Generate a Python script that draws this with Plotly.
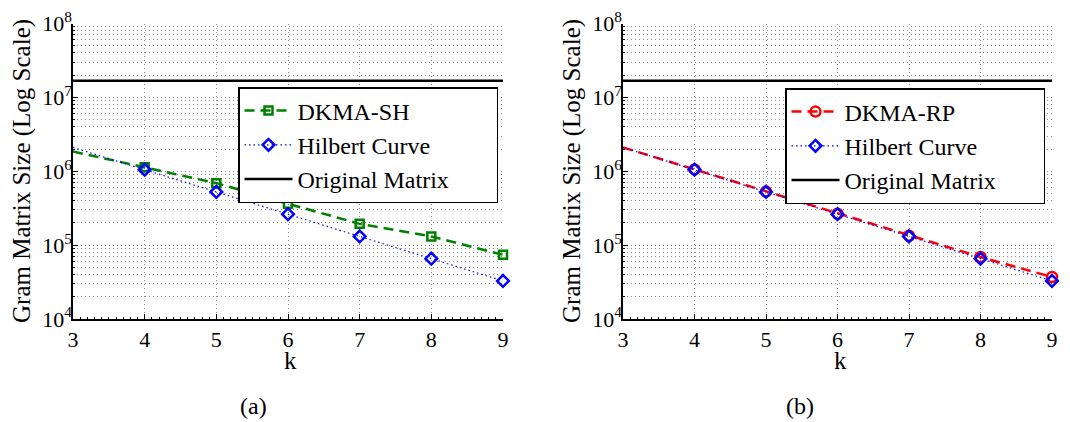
import plotly.graph_objects as go

# k values (cluster parameter) and Gram-matrix sizes
k_line = [3, 4, 5, 6, 7, 8, 9]
k_mark = [4, 5, 6, 7, 8, 9]

dkma_sh = [1.85e6, 1.13e6, 6.9e5, 3.63e5, 1.94e5, 1.31e5, 7.4e4]
dkma_rp = [2.1e6, 1.06e6, 5.3e5, 2.66e5, 1.34e5, 6.9e4, 3.7e4]
hilbert = [2097152, 1048576, 524288, 262144, 131072, 65536, 32768]
original = [16777216] * len(k_line)

x_ticks = [3, 4, 5, 6, 7, 8, 9]
y_ticks = [1e4, 1e5, 1e6, 1e7, 1e8]
y_ticktext = ["10<sup>4</sup>", "10<sup>5</sup>", "10<sup>6</sup>", "10<sup>7</sup>", "10<sup>8</sup>"]

FONT = "Liberation Serif, DejaVu Serif, serif"
W, H = 1070, 422
PAD = "\u00a0" * 7  # right-hand padding inside the legend box

GREEN = "#008000"
BLUE = "#0000ff"
RED = "#ff0000"


def series(fig, xa, ya, legend, name, values, color, dash, width, symbol, msize, mlw):
    # line (clipped to the axes)
    fig.add_trace(go.Scatter(
        x=k_line, y=values, mode="lines", xaxis=xa, yaxis=ya,
        line=dict(color=color, dash=dash, width=width),
        showlegend=False, hoverinfo="skip"))
    # markers at measured k, drawn in full even on the axis edge
    fig.add_trace(go.Scatter(
        x=k_mark, y=values[1:], mode="markers", xaxis=xa, yaxis=ya,
        marker=dict(symbol=symbol, size=msize, color=color, line=dict(width=mlw, color=color)),
        cliponaxis=False, showlegend=False))
    # legend entry
    fig.add_trace(go.Scatter(
        x=[None], y=[None], mode="lines+markers", xaxis=xa, yaxis=ya, name=name,
        line=dict(color=color, dash=dash, width=width),
        marker=dict(symbol=symbol, size=msize, color=color, line=dict(width=mlw, color=color)),
        legend=legend))


def original_line(fig, xa, ya, legend):
    fig.add_trace(go.Scatter(
        x=k_line, y=original, mode="lines", xaxis=xa, yaxis=ya, name="Original Matrix" + PAD,
        line=dict(color="black", width=2.5), legend=legend))


fig = go.Figure()

series(fig, "x", "y", "legend", "DKMA-SH", dkma_sh, GREEN, "10px,6px", 2.5, "square-open", 8, 2.5)
series(fig, "x", "y", "legend", "Hilbert Curve", hilbert, BLUE, "1.5px,3px", 1.2, "diamond-open", 9, 2.5)
original_line(fig, "x", "y", "legend")

series(fig, "x2", "y2", "legend2", "DKMA-RP", dkma_rp, RED, "10px,6px", 2.5, "circle-open", 10, 2.5)
series(fig, "x2", "y2", "legend2", "Hilbert Curve", hilbert, BLUE, "1.5px,3px", 1.2, "diamond-open", 9, 2.5)
original_line(fig, "x2", "y2", "legend2")

y_minor = [m * 10 ** e for e in range(4, 8) for m in range(2, 10)]
grid_col = "rgba(0,0,0,0.45)"
grid_dash = "1px,3px"

xaxis_common = dict(
    range=[3, 9], tickmode="array", tickvals=x_ticks, ticks="inside", ticklen=5,
    tickcolor="black", tickwidth=1, showline=True, linecolor="black", linewidth=1.5,
    showgrid=True, gridcolor=grid_col, griddash=grid_dash, gridwidth=1,
    zeroline=False, mirror=False, automargin=False,
    tickfont=dict(family=FONT, size=22, color="black"),
    minor=dict(ticks="inside", ticklen=2.5, tickcolor="black", dtick=0.1, showgrid=False),
)
yaxis_common = dict(
    type="log", range=[4, 8], tickmode="array", tickvals=y_ticks, ticktext=y_ticktext,
    ticks="inside", ticklen=5, tickcolor="black", tickwidth=1,
    showline=True, linecolor="black", linewidth=1.5,
    showgrid=True, gridcolor=grid_col, griddash=grid_dash, gridwidth=1,
    zeroline=False, mirror=False, automargin=False, ticklabelstandoff=-5,
    tickfont=dict(family=FONT, size=22, color="black"),
    minor=dict(ticks="inside", ticklen=2.5, tickcolor="black", tickmode="array",
               tickvals=y_minor, showgrid=True, gridcolor=grid_col, griddash=grid_dash, gridwidth=1),
)

legend_common = dict(xanchor="left", yanchor="top", bgcolor="white",
                     bordercolor="black", borderwidth=1.5, itemwidth=48,
                     font=dict(family=FONT, size=24, color="black"))

yd = [1 - 319 / H, 1 - 23.5 / H]
fig.update_layout(
    template="none",
    width=W, height=H, margin=dict(l=0, r=0, t=0, b=0, autoexpand=False),
    paper_bgcolor="white", plot_bgcolor="white",
    font=dict(family=FONT, color="black"),
    xaxis=dict(domain=[73 / W, 503 / W], anchor="y", **xaxis_common),
    yaxis=dict(domain=yd, anchor="x", **yaxis_common),
    xaxis2=dict(domain=[623 / W, 1052 / W], anchor="y2", **xaxis_common),
    yaxis2=dict(domain=yd, anchor="x2", **yaxis_common),
    legend=dict(x=238 / W, y=1 - 87 / H, **legend_common),
    legend2=dict(x=785 / W, y=1 - 88 / H, **legend_common),
    showlegend=True,
)

ytitle = "Gram Matrix Size (Log Scale)"
annots = []
for xc_axis, xc_title, cap, cap_x in [(22, 290, "(a)", 253), (572, 840, "(b)", 800)]:
    annots.append(dict(text=ytitle, textangle=-90, x=xc_axis / W, y=1 - 171 / H,
                       xref="paper", yref="paper", xanchor="center", yanchor="middle",
                       showarrow=False, font=dict(family=FONT, size=25, color="black")))
    annots.append(dict(text="k", x=xc_title / W, y=1 - 360 / H, xref="paper", yref="paper",
                       xanchor="center", yanchor="middle",
                       showarrow=False, font=dict(family=FONT, size=25, color="black")))
    annots.append(dict(text=cap, x=cap_x / W, y=1 - 406 / H, xref="paper", yref="paper",
                       xanchor="center", yanchor="middle",
                       showarrow=False, font=dict(family=FONT, size=24, color="black")))
fig.update_layout(annotations=annots)

fig.write_html("out.html")
